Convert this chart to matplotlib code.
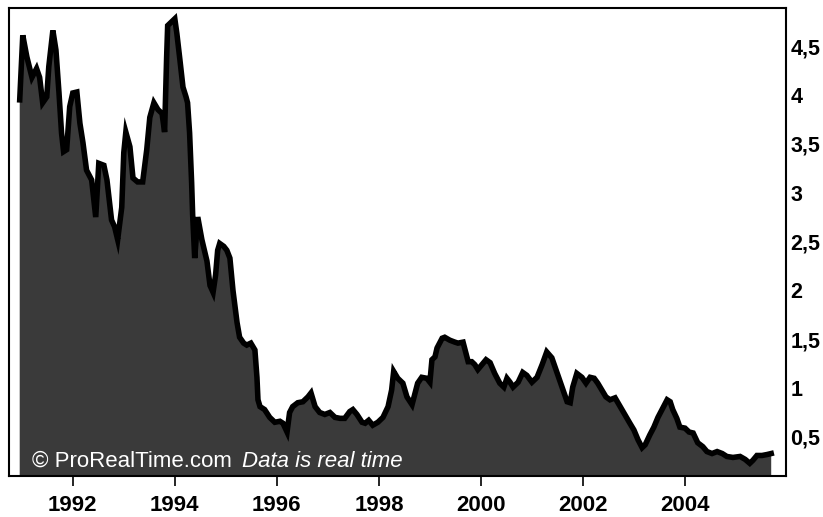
import numpy as np
import matplotlib
matplotlib.use("Agg")
import matplotlib.pyplot as plt
from matplotlib.ticker import FuncFormatter

# ============================================================
# ========================= DATA =============================
# ============================================================

years = [
    1990.96, 1991.02, 1991.10, 1991.20, 1991.29, 1991.35, 1991.41, 1991.49,
    1991.53, 1991.61, 1991.67, 1991.73, 1991.78, 1991.82, 1991.88, 1991.94,
    1992.00, 1992.08, 1992.14, 1992.20, 1992.27, 1992.37, 1992.45, 1992.51,
    1992.61, 1992.67, 1992.76, 1992.82, 1992.88, 1992.96, 1993.00, 1993.04,
    1993.12, 1993.18, 1993.27, 1993.37, 1993.45, 1993.51, 1993.59, 1993.67,
    1993.75, 1993.80, 1993.84, 1993.86, 1993.94, 1994.00, 1994.04, 1994.10,
    1994.16, 1994.22, 1994.25, 1994.29, 1994.33, 1994.35, 1994.39, 1994.45,
    1994.53, 1994.63, 1994.69, 1994.75, 1994.80, 1994.84, 1994.88, 1994.96,
    1995.02, 1995.08, 1995.14, 1995.22, 1995.27, 1995.35, 1995.41, 1995.49,
    1995.57, 1995.61, 1995.63, 1995.67, 1995.76, 1995.86, 1995.96, 1996.06,
    1996.12, 1996.20, 1996.25, 1996.31, 1996.41, 1996.51, 1996.61, 1996.67,
    1996.75, 1996.84, 1996.94, 1997.04, 1997.14, 1997.24, 1997.33, 1997.43,
    1997.49, 1997.57, 1997.67, 1997.73, 1997.80, 1997.88, 1997.98, 1998.08,
    1998.18, 1998.25, 1998.29, 1998.37, 1998.47, 1998.55, 1998.65, 1998.71,
    1998.76, 1998.84, 1998.94, 1999.00, 1999.04, 1999.10, 1999.14, 1999.24,
    1999.29, 1999.39, 1999.49, 1999.55, 1999.65, 1999.69, 1999.75, 1999.82,
    1999.88, 1999.94, 2000.02, 2000.10, 2000.18, 2000.27, 2000.37, 2000.45,
    2000.51, 2000.57, 2000.63, 2000.73, 2000.82, 2000.90, 2001.00, 2001.10,
    2001.20, 2001.29, 2001.39, 2001.45, 2001.53, 2001.61, 2001.69, 2001.75,
    2001.80, 2001.88, 2001.98, 2002.06, 2002.14, 2002.22, 2002.29, 2002.37,
    2002.45, 2002.53, 2002.63, 2002.73, 2002.82, 2002.92, 2003.00, 2003.08,
    2003.16, 2003.22, 2003.31, 2003.39, 2003.47, 2003.55, 2003.65, 2003.71,
    2003.76, 2003.84, 2003.90, 2004.00, 2004.08, 2004.16, 2004.25, 2004.35,
    2004.43, 2004.53, 2004.63, 2004.73, 2004.82, 2004.94, 2005.08, 2005.18,
    2005.27, 2005.33, 2005.41, 2005.51, 2005.61, 2005.69,
]

values = [
    3.95, 4.61, 4.39, 4.18, 4.27, 4.18, 3.92, 3.98,
    4.29, 4.66, 4.46, 4.02, 3.61, 3.42, 3.44, 3.88,
    4.02, 4.03, 3.71, 3.51, 3.23, 3.13, 2.75, 3.30,
    3.28, 3.13, 2.72, 2.65, 2.52, 2.85, 3.41, 3.62,
    3.47, 3.15, 3.11, 3.11, 3.44, 3.77, 3.92, 3.85,
    3.81, 3.62, 4.39, 4.71, 4.75, 4.78, 4.63, 4.36,
    4.08, 3.98, 3.92, 3.61, 3.10, 2.77, 2.33, 2.75,
    2.52, 2.30, 2.05, 1.98, 2.16, 2.41, 2.48, 2.45,
    2.41, 2.33, 2.00, 1.67, 1.52, 1.46, 1.44, 1.46,
    1.39, 1.11, 0.88, 0.81, 0.78, 0.70, 0.65, 0.66,
    0.64, 0.55, 0.75, 0.81, 0.85, 0.86, 0.91, 0.95,
    0.81, 0.75, 0.73, 0.75, 0.70, 0.69, 0.69, 0.76,
    0.78, 0.73, 0.65, 0.64, 0.67, 0.62, 0.65, 0.70,
    0.81, 0.98, 1.17, 1.10, 1.05, 0.91, 0.83, 0.95,
    1.05, 1.11, 1.10, 1.06, 1.29, 1.32, 1.41, 1.51,
    1.52, 1.49, 1.47, 1.46, 1.47, 1.39, 1.27, 1.27,
    1.24, 1.19, 1.24, 1.29, 1.26, 1.15, 1.05, 1.01,
    1.10, 1.06, 1.01, 1.06, 1.16, 1.13, 1.06, 1.11,
    1.24, 1.37, 1.31, 1.22, 1.10, 0.98, 0.86, 0.85,
    1.01, 1.15, 1.11, 1.05, 1.11, 1.10, 1.05, 0.98,
    0.91, 0.88, 0.90, 0.81, 0.73, 0.64, 0.57, 0.47,
    0.39, 0.42, 0.52, 0.60, 0.70, 0.78, 0.88, 0.86,
    0.78, 0.69, 0.60, 0.59, 0.55, 0.54, 0.44, 0.40,
    0.35, 0.33, 0.35, 0.33, 0.30, 0.29, 0.30, 0.27,
    0.23, 0.26, 0.31, 0.31, 0.32, 0.33,
]

x_ticks = [1992, 1994, 1996, 1998, 2000, 2002, 2004]
y_ticks = [0.5, 1, 1.5, 2, 2.5, 3, 3.5, 4, 4.5]

# ============================================================
# ========================= PLOT =============================
# ============================================================

plt.rcParams["font.family"] = ["Liberation Sans", "DejaVu Sans"]

fig = plt.figure(figsize=(8.23, 5.17), dpi=100)
ax = fig.add_axes([9 / 823, 1 - 476 / 517, 777 / 823, 468 / 517])

ax.fill_between(years, values, -1, color="#3a3a3a", linewidth=0)
ax.plot(years, values, color="black", linewidth=4.0, solid_joinstyle="miter")

ax.set_xlim(1990.75, 2005.98)
ax.set_ylim(0.1, 4.89)

ax.set_xticks(x_ticks)
ax.set_xticklabels([str(y) for y in x_ticks])
ax.set_yticks(y_ticks)
ax.yaxis.set_major_formatter(FuncFormatter(lambda v, p: f"{v:g}".replace(".", ",")))

ax.yaxis.tick_right()
ax.tick_params(axis="y", length=0, pad=3, labelsize=15.5)
ax.tick_params(axis="x", length=7, width=1.2, pad=7, labelsize=16, direction="out")
for lab in ax.get_xticklabels() + ax.get_yticklabels():
    lab.set_fontweight("bold")

for sp in ax.spines.values():
    sp.set_linewidth(1.5)
    sp.set_color("black")

ax.text(0.0296, 0.02, "\u00a9 ProRealTime.com", transform=ax.transAxes,
        color="white", fontsize=16, va="baseline", ha="left")
ax.text(0.2999, 0.02, "Data is real time", transform=ax.transAxes,
        color="white", fontsize=16, style="italic", va="baseline", ha="left")

fig.savefig("out.png", dpi=100)
plt.close(fig)
